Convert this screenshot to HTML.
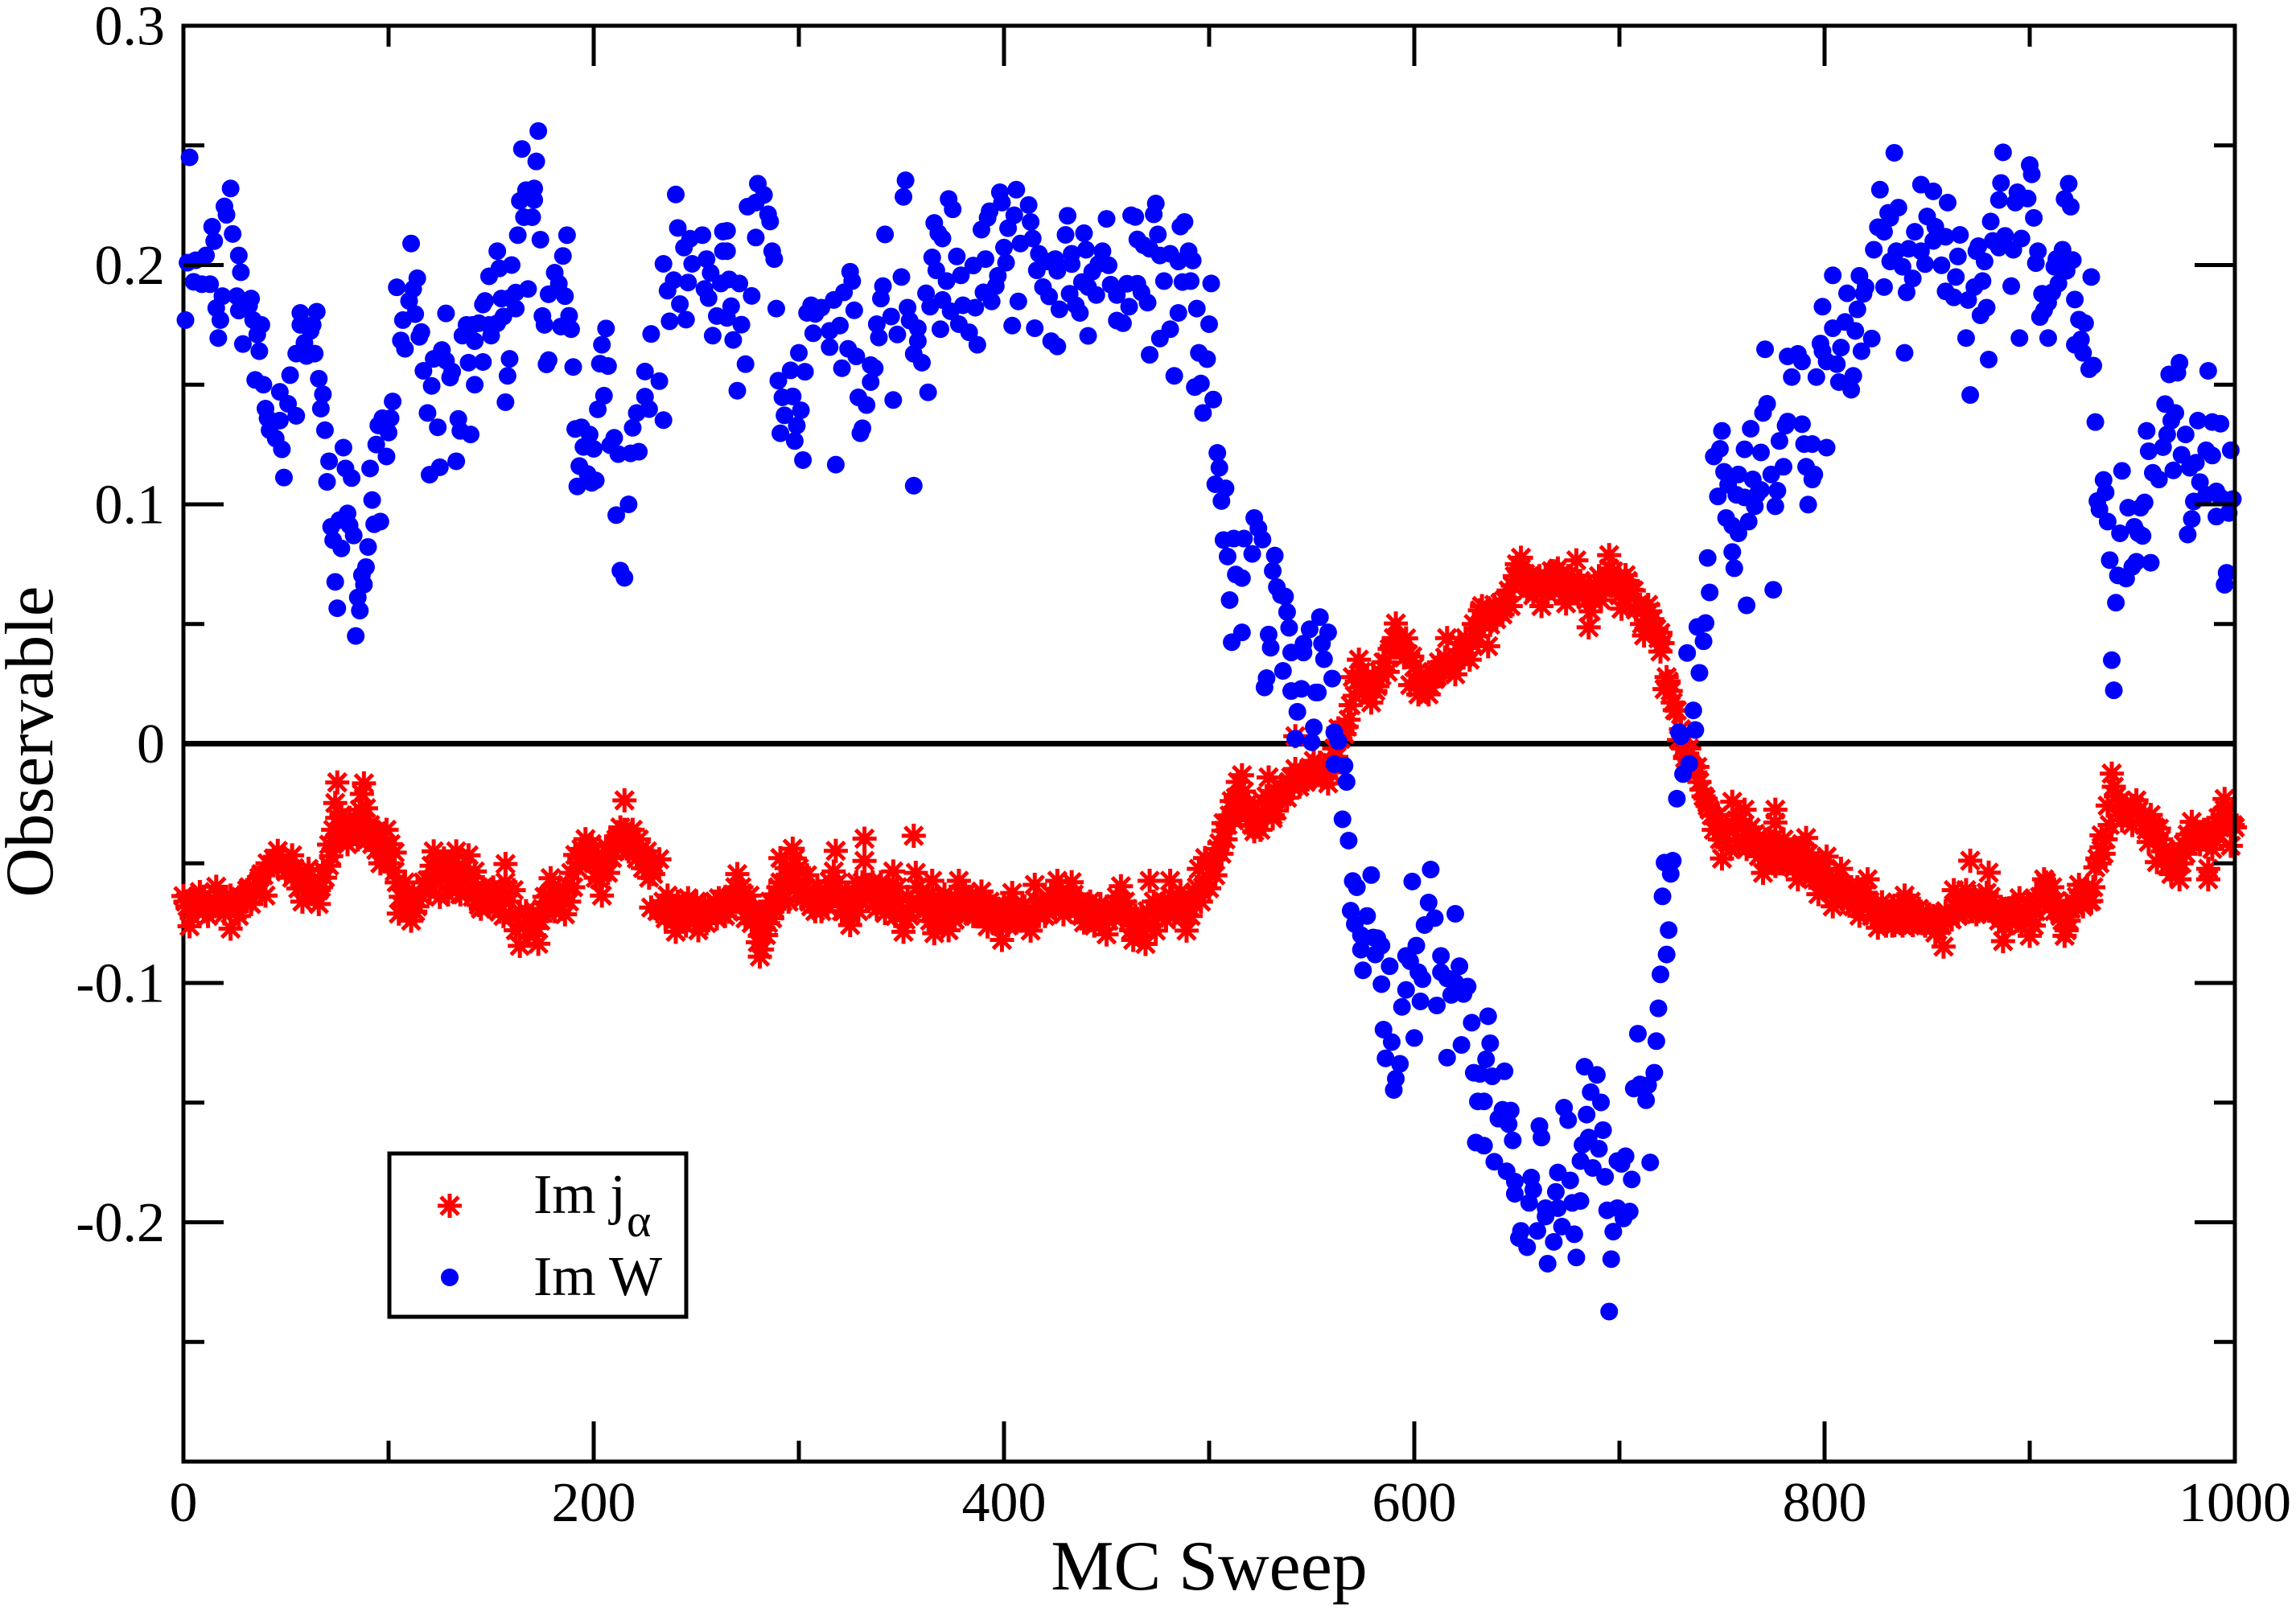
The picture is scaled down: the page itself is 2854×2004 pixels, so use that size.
<!DOCTYPE html>
<html lang="en">
<head>
<meta charset="utf-8">
<title>Observable vs MC Sweep</title>
<style>
html,body{margin:0;padding:0;background:#fff;}
svg{display:block;}
text{font-family:"Liberation Serif",serif;fill:#000;}
</style>
</head>
<body>
<svg id="chart" xmlns="http://www.w3.org/2000/svg" width="2854" height="2004" viewBox="0 0 2854 2004">
<rect x="0" y="0" width="2854" height="2004" fill="#fff"/>
<g id="frame-layer"></g>
<g id="zero-layer"></g>
<g id="j-layer"></g>
<g id="w-layer"></g>
<g id="axis-layer"></g>
<text x="1503" y="1976" font-size="88" text-anchor="middle">MC Sweep</text>
<text transform="translate(65,922) rotate(-90)" font-size="85" text-anchor="middle">Observable</text>
<g>
<rect x="484" y="1434" width="369" height="203" fill="#fff" stroke="#000" stroke-width="5"/>
<path d="M544 1499H574M559 1484V1514M548 1488L570 1510M548 1510L570 1488" stroke="#ff0000" stroke-width="5" fill="none"/>
<circle cx="559" cy="1588" r="11" fill="#0000ff"/>
<text x="663" y="1508" font-size="70">Im j</text>
<text x="779" y="1537" font-size="58">α</text>
<text x="663" y="1610" font-size="70">Im W</text>
</g>
</svg>
<script>
const xMajorTicks = [0,200,400,600,800,1000];
const xMinorTicks = [100,300,500,700,900];
const xTickLabels = ["0","200","400","600","800","1000"];
const yMajorTicks = [0.3,0.2,0.1,0,-0.1,-0.2,-0.3];
const yMinorTicks = [0.25,0.15,0.05,-0.05,-0.15,-0.25];
const yTickLabels = ["0.3","0.2","0.1","0","-0.1","-0.2",""];

const imJSweep = [
0,2,3,5,8,10,13,16,18,20,
23,23,26,28,31,33,36,38,40,43,
46,46,50,53,53,56,58,61,61,64,
66,66,68,71,71,74,75,74,75,78,
81,81,84,86,87,88,88,90,94,94,
97,99,103,103,105,108,109,113,116,119,
121,122,123,125,128,129,131,133,136,139,
138,142,144,147,151,154,157,157,161,164,
164,168,173,172,175,179,178,182,186,187,
189,191,193,196,197,200,203,204,206,209,
212,215,215,218,220,223,225,229,229,232,
228,233,236,238,240,243,246,247,251,253,
256,259,261,264,266,268,270,272,276,278,
281,281,281,283,286,288,290,291,293,295,
297,297,299,302,304,306,309,312,315,318,
317,320,322,325,325,328,330,332,332,334,
337,340,342,344,346,348,351,352,355,356,
357,360,362,365,366,367,370,373,376,378,
381,384,386,389,392,394,397,399,401,404,
406,409,411,413,415,418,420,423,426,429,
431,433,436,439,442,445,447,450,452,455,
457,460,463,466,469,471,474,476,479,481,
484,487,489,490,493,495,497,498,500,502,
505,507,507,510,513,513,516,519,522,523,
526,529,531,531,534,536,538,540,542,542,
545,548,551,553,555,558,560,562,563,565,
567,569,570,573,575,579,579,581,584,586,
588,589,590,591,593,597,598,599,602,604,
606,607,610,613,616,619,620,623,625,627,
630,632,633,635,636,637,640,642,645,647,
650,652,652,654,657,659,662,665,667,670,
672,674,677,679,681,683,685,686,688,691,
693,695,695,698,700,701,703,706,709,712,
715,715,717,720,720,723,722,726,728,729,
731,733,735,738,740,742,744,747,749,750,
753,755,757,758,761,762,764,766,768,770,
773,776,776,776,776,779,781,784,787,791,
794,797,801,804,806,808,811,814,817,820,
821,824,826,828,831,834,836,839,841,843,
846,848,851,854,856,858,860,862,863,866,
869,869,871,874,877,879,880,883,885,887,
887,890,893,895,896,898,900,903,905,907,
907,910,913,915,917,918,920,922,924,927,
930,932,933,935,935,938,940,941,943,945,
946,948,950,952,955,958,959,961,962,963,
965,967,969,970,972,973,975,977,979,980,
983,985,987,987,988,990,992,992,995,995,
997,998,1000
];
const imJValue = [
-.0637,-.068,-.0763,-.065,-.062,-.07,-.066,-.0598,-.068,-.0645,
-.0773,-.0635,-.070,-.064,-.0612,-.067,-.0585,-.0545,-.0635,-.0505,
-.0448,-.0512,-.0535,-.0467,-.056,-.0605,-.066,-.0523,-.0612,-.0635,
-.067,-.0612,-.053,-.051,-.0422,-.0248,-.0162,-.041,-.031,-.037,
-.0388,-.031,-.033,-.0276,-.021,-.0166,-.0355,-.04,-.0366,-.0444,
-.0467,-.036,-.0455,-.0534,-.071,-.058,-.0646,-.0702,-.0635,-.057,
-.051,-.045,-.0579,-.064,-.0523,-.063,-.055,-.045,-.057,-.0467,
-.0623,-.0534,-.0674,-.065,-.0601,-.0702,-.0503,-.0579,-.0612,-.0702,
-.0845,-.078,-.0836,-.077,-.069,-.0562,-.0635,-.0675,-.0713,-.059,
-.054,-.0465,-.0478,-.0399,-.0444,-.05,-.0568,-.0635,-.043,-.0478,
-.0385,-.0237,-.036,-.0399,-.043,-.0444,-.0475,-.0501,-.0545,-.0483,
-.0685,-.069,-.0635,-.072,-.0786,-.068,-.0646,-.0702,-.078,-.070,
-.072,-.066,-.0646,-.072,-.0702,-.063,-.0545,-.06,-.0635,-.0702,
-.0803,-.089,-.075,-.0702,-.066,-.069,-.06,-.0478,-.058,-.066,
-.0439,-.0534,-.06,-.0645,-.055,-.068,-.06,-.0668,-.0575,-.0448,
-.0534,-.0635,-.07,-.0758,-.0713,-.058,-.065,-.0397,-.049,-.059,
-.066,-.058,-.0708,-.063,-.0534,-.06,-.0786,-.0736,-.068,-.0385,
-.054,-.062,-.069,-.0573,-.0792,-.0747,-.066,-.078,-.0736,-.0573,
-.063,-.068,-.072,-.0618,-.0764,-.068,-.074,-.082,-.072,-.0624,
-.0747,-.068,-.0745,-.0781,-.059,-.066,-.072,-.063,-.0573,-.0713,
-.065,-.0579,-.069,-.0747,-.066,-.072,-.067,-.0797,-.071,-.064,
-.0596,-.069,-.082,-.0765,-.0837,-.0573,-.0781,-.068,-.0735,-.0573,
-.0665,-.072,-.0781,-.068,-.063,-.0523,-.06,-.0478,-.0604,-.0484,
-.0416,-.0332,-.0364,-.030,-.0243,-.0226,-.0132,-.025,-.0366,-.0347,
-.024,-.0141,-.0312,-.0299,-.021,-.022,-.0226,-.014,.0031,-.0106,
-.012,-.0149,-.0072,-.011,-.014,-.0166,-.008,-.0055,.0064,.0057,
.0071,.0161,.0278,.0351,.0214,.0172,.0239,.022,.0284,.034,
.0396,.0407,.0441,.0502,.042,.0374,.0245,.0364,.0206,.0236,
.025,.0206,.027,.033,.0441,.0321,.029,.036,.0441,.0351,
.045,.0557,.0575,.0519,.0407,.0497,.052,.0587,.06,.0575,
.075,.0777,.0732,.071,.065,.0665,.0575,.063,.0721,.0732,
.066,.0586,.0687,.0766,.068,.062,.0486,.0553,.0665,.06,
.066,.0788,.0732,.0685,.062,.0564,.0704,.0643,.058,.0452,
.0553,.0497,.048,.0463,.0385,.0278,.0228,.0172,.0138,.0015,
-.002,-.0041,-.009,-.0097,-.0192,-.023,-.0276,-.0332,-.04,-.048,
-.036,-.0243,-.0321,-.043,-.0276,-.044,-.035,-.0377,-.047,-.054,
-.041,-.0276,-.0388,-.0511,-.033,-.045,-.0433,-.05,-.0567,-.0394,
-.048,-.0629,-.0472,-.068,-.058,-.0523,-.063,-.068,-.0719,-.0623,
-.0567,-.07,-.0769,-.0663,-.07,-.0758,-.067,-.0635,-.071,-.0758,
-.069,-.075,-.0713,-.079,-.075,-.0848,-.072,-.0735,-.0612,-.066,
-.0612,-.0691,-.0489,-.0713,-.066,-.0623,-.0539,-.068,-.074,-.0825,
-.0691,-.074,-.068,-.0646,-.0758,-.071,-.0803,-.07,-.064,-.0567,
-.0623,-.068,-.0657,-.072,-.0803,-.078,-.069,-.068,-.059,-.062,
-.0657,-.0517,-.048,-.0433,-.0383,-.0259,-.0125,-.018,-.028,-.032,
-.0259,-.03,-.034,-.0237,-.03,-.0411,-.0298,-.035,-.0495,-.0355,
-.045,-.051,-.0545,-.0467,-.05,-.0567,-.042,-.038,-.0327,-.0388,
-.042,-.036,-.0523,-.0567,-.0388,-.035,-.031,-.0377,-.0231,-.0276,
-.0338,-.0427,-.035
];

const imJBandSweep = [
1,4,7,10,12,15,17,20,22,25,
27,30,32,35,37,39,41,44,48,51,
54,57,59,62,64,67,69,72,73,76,
77,79,80,83,85,87,89,91,92,95,
96,98,100,101,104,106,107,110,111,112,
114,117,120,124,126,127,130,132,134,135,
137,140,141,143,145,146,149,150,153,155,
156,159,160,162,166,167,170,171,174,176,
177,180,181,183,185,188,190,192,194,198,
199,201,202,205,207,210,211,213,214,217,
219,221,222,224,226,227,231,234,235,237,
239,241,242,244,245,248,249,250,252,254,
255,258,260,262,263,265,267,269,271,273,
274,275,277,279,280,282,282,284,285,287,
289,291,292,294,296,298,300,301,303,305,
307,308,310,311,313,314,316,319,321,323,
324,326,327,329,331,333,335,336,338,339,
341,343,345,347,349,350,353,354,358,359,
361,363,364,368,369,371,372,374,375,377,
379,380,382,383,385,387,388,390,391,393,
395,396,398,400,402,403,405,407,408,410,
412,414,416,417,419,421,422,424,425,427,
428,430,432,434,435,437,438,440,441,443,
444,446,448,449,451,453,454,456,458,459,
461,462,464,465,467,468,470,472,473,475,
477,478,480,482,483,485,486,488,491,492,
494,496,499,501,503,504,506,508,509,511,
512,514,515,517,518,520,521,524,525,527,
528,530,532,533,535,537,539,541,543,544,
546,547,549,550,552,554,556,557,559,561,
564,566,568,571,572,574,576,577,578,580,
582,583,585,587,592,594,595,596,600,601,
603,605,608,609,611,612,614,615,617,618,
621,622,624,626,628,629,631,634,638,639,
641,643,644,646,648,649,651,653,655,656,
658,660,661,663,664,666,668,669,671,673,
675,676,678,680,682,684,687,689,690,692,
694,696,697,699,702,704,705,707,708,710,
711,713,714,716,718,719,721,724,725,727,
730,732,734,736,737,739,741,743,745,746,
748,751,752,754,756,759,760,763,765,767,
769,771,772,774,775,777,778,780,782,783,
785,786,788,789,790,792,793,795,796,798,
799,800,802,803,805,807,809,810,812,813,
815,816,818,819,822,823,825,827,829,830,
832,833,835,837,838,840,842,844,845,847,
849,850,852,853,855,857,859,861,864,865,
867,868,870,872,873,875,876,878,881,882,
884,886,888,889,891,892,894,897,899,901,
902,904,906,908,909,911,912,914,916,919,
921,923,925,926,928,929,931,934,936,937,
939,942,944,947,949,951,953,954,956,957,
960,964,966,968,971,974,976,978,981,982,
984,986,989,991,993,994,996,999
];
const imJBandValue = [
-.066,-.072,-.067,-.064,-.072,-.068,-.064,-.071,-.068,-.066,
-.072,-.066,-.06,-.062,-.056,-.055,-.05,-.048,-.049,-.05,
-.052,-.055,-.058,-.058,-.062,-.06,-.056,-.047,-.036,-.04,
-.03,-.035,-.042,-.036,-.04,-.032,-.027,-.034,-.042,-.04,
-.05,-.043,-.05,-.042,-.058,-.064,-.068,-.069,-.074,-.063,
-.068,-.058,-.062,-.052,-.056,-.048,-.06,-.05,-.056,-.063,
-.052,-.056,-.064,-.06,-.069,-.06,-.068,-.063,-.065,-.062,
-.072,-.066,-.072,-.078,-.076,-.07,-.072,-.08,-.074,-.064,
-.07,-.062,-.07,-.062,-.065,-.066,-.06,-.052,-.044,-.049,
-.042,-.056,-.048,-.05,-.054,-.045,-.04,-.035,-.042,-.045,
-.036,-.048,-.04,-.052,-.045,-.056,-.07,-.066,-.073,-.069,
-.074,-.066,-.073,-.07,-.076,-.068,-.074,-.066,-.073,-.068,
-.075,-.07,-.073,-.07,-.066,-.065,-.064,-.06,-.065,-.066,
-.073,-.067,-.075,-.072,-.083,-.086,-.076,-.08,-.075,-.073,
-.063,-.058,-.066,-.052,-.057,-.048,-.052,-.062,-.06,-.066,
-.063,-.07,-.065,-.07,-.062,-.068,-.064,-.058,-.07,-.063,
-.067,-.068,-.062,-.07,-.058,-.06,-.064,-.058,-.069,-.063,
-.066,-.061,-.065,-.072,-.066,-.072,-.064,-.072,-.06,-.067,
-.07,-.064,-.074,-.065,-.071,-.063,-.072,-.064,-.07,-.066,
-.07,-.064,-.069,-.064,-.072,-.066,-.07,-.068,-.072,-.066,
-.074,-.068,-.076,-.068,-.076,-.068,-.068,-.07,-.074,-.068,
-.074,-.07,-.066,-.072,-.068,-.07,-.066,-.068,-.064,-.066,
-.063,-.068,-.066,-.063,-.07,-.066,-.072,-.07,-.074,-.07,
-.076,-.07,-.075,-.07,-.074,-.068,-.073,-.068,-.072,-.066,
-.074,-.078,-.072,-.078,-.072,-.078,-.07,-.076,-.066,-.072,
-.068,-.066,-.07,-.064,-.07,-.068,-.062,-.07,-.072,-.066,
-.06,-.066,-.056,-.052,-.055,-.044,-.046,-.04,-.034,-.024,
-.032,-.016,-.028,-.02,-.03,-.028,-.034,-.03,-.036,-.03,
-.022,-.024,-.022,-.028,-.018,-.02,-.016,-.018,-.014,-.018,
-.012,-.016,-.01,-.014,-.012,-.008,-.01,-.014,-.012,-.002,
.002,.004,.01,.02,.026,.03,.024,.028,.02,.028,
.024,.03,.034,.03,.044,.04,.036,.044,.032,.026,
.028,.026,.024,.03,.028,.034,.03,.036,.034,.032,
.036,.042,.036,.04,.042,.05,.048,.05,.055,.058,
.056,.054,.06,.064,.066,.07,.07,.068,.064,.07,
.062,.066,.07,.064,.07,.066,.066,.072,.066,.062,
.07,.064,.064,.062,.066,.06,.06,.064,.07,.066,
.07,.066,.072,.068,.064,.068,.062,.064,.056,.058,
.05,.054,.058,.052,.048,.044,.042,.026,.022,.014,
.006,-.006,-.002,-.01,-.012,-.016,-.022,-.026,-.03,-.036,
-.03,-.04,-.034,-.044,-.036,-.032,-.04,-.036,-.042,-.04,
-.046,-.04,-.048,-.044,-.05,-.044,-.05,-.04,-.05,-.045,
-.052,-.044,-.05,-.042,-.052,-.046,-.056,-.05,-.056,-.056,
-.05,-.06,-.055,-.062,-.064,-.06,-.066,-.06,-.066,-.06,
-.066,-.06,-.066,-.06,-.066,-.072,-.068,-.072,-.07,-.076,
-.07,-.076,-.072,-.07,-.076,-.07,-.066,-.07,-.074,-.072,
-.076,-.072,-.076,-.072,-.078,-.076,-.07,-.072,-.068,-.072,
-.064,-.07,-.066,-.07,-.064,-.07,-.064,-.068,-.064,-.07,
-.07,-.072,-.076,-.07,-.074,-.068,-.074,-.072,-.066,-.072,
-.076,-.066,-.064,-.058,-.064,-.06,-.07,-.07,-.074,-.074,
-.066,-.064,-.062,-.068,-.06,-.066,-.06,-.05,-.046,-.04,
-.034,-.022,-.024,-.03,-.028,-.026,-.028,-.032,-.034,-.036,
-.038,-.04,-.044,-.05,-.052,-.05,-.046,-.04,-.036,-.04,
-.04,-.038,-.044,-.038,-.034,-.03,-.03,-.034
];

const imWSweep = [
3,1,2,6,11,5,9,13,23,20,
21,14,15,24,27,28,19,16,26,27,
33,32,18,17,34,38,36,29,37,35,
39,52,47,51,40,41,47,55,42,45,
48,49,57,65,57,63,62,59,55,60,
64,66,68,67,69,78,71,79,82,70,
91,94,99,95,100,97,101,102,92,96,
93,80,76,72,81,83,73,77,90,89,
87,88,74,85,86,75,84,111,114,104,
112,110,113,107,116,115,106,108,128,126,
122,128,117,131,130,121,139,146,142,159,
158,157,178,177,190,119,124,134,135,140,
133,125,120,136,138,141,144,142,150,149,
153,146,147,156,155,162,159,162,168,153,
149,154,160,163,174,165,172,173,171,167,
164,171,166,170,187,185,181,183,178,186,
175,176,184,188,189,206,204,203,207,205,
202,194,191,198,195,200,193,197,201,199,
192,210,208,212,218,222,217,211,213,215,
219,221,227,234,225,225,232,228,237,245,
258,260,242,236,239,246,234,240,241,244,
247,253,248,255,257,254,262,256,263,263,
265,265,280,283,275,279,286,285,279,287,
288,266,271,277,267,289,265,272,268,274,
270,300,296,303,290,292,297,301,293,299,
291,298,302,318,356,306,304,311,308,317,
322,325,326,327,320,315,307,315,324,328,
321,335,337,335,329,333,331,330,346,363,
340,341,350,352,351,342,338,345,339,348,
353,354,358,358,356,360,369,362,364,370,
374,378,383,387,380,386,394,390,396,397,
401,372,379,385,391,367,365,377,366,370,
368,373,375,389,393,392,398,399,406,412,
402,405,413,408,414,400,407,404,415,423,
426,441,419,422,427,432,435,437,416,421,
425,426,433,417,431,430,439,440,433,448,
446,451,443,438,441,445,452,455,460,465,
467,470,461,458,455,450,462,464,474,473,
488,486,475,465,468,471,476,481,485,490,
492,478,487,491,501,494,485,500,481,476,
471,495,499,483,496,493,502,497,504,505,
503,508,506,522,524,526,507,512,517,521,
509,532,531,513,516,533,535,537,510,538,
539,554,549,558,516,511,529,530,555,546,
540,546,556,536,560,528,527,540,545,552,
553,543,551,542,550,561,563,561,566,567,
565,568,579,570,572,599,608,607,610,605,
620,569,577,571,580,582,574,584,574,581,
575,588,601,596,598,602,604,584,596,594,
603,611,613,622,613,616,620,626,618,624,
636,628,585,589,600,586,593,591,590,623,
616,637,635,629,632,638,644,631,634,643,
647,641,646,673,684,675,661,662,648,630,
634,639,645,683,689,686,691,692,685,682,
690,681,687,693,703,699,701,715,706,717,
710,707,714,713,718,709,719,720,723,724,
721,725,722,726,728,731,734,730,729,737,
657,649,658,649,656,670,676,669,681,677,
670,664,664,694,699,705,702,697,660,652,
651,655,672,678,668,679,665,696,695,
736,739,733,741,738,742,744,762,775,743,
756,755,758,752,755,763,776,792,766,748,
757,761,767,769,777,753,758,751,765,774,
780,791,795,794,746,749,761,769,750,764,
778,781,782,789,790,794,801,770,772,784,
796,771,782,787,789,798,799,801,806,804,
808,810,815,818,823,807,814,813,816,799,
804,811,817,820,819,829,840,839,824,826,
829,832,831,836,827,834,832,835,838,843,
841,847,849,844,847,853,860,850,854,853,
859,866,857,865,864,859,863,870,873,877,
879,876,869,880,895,909,871,874,878,875,
882,881,885,888,892,896,886,885,887,900,
901,894,893,899,902,891,904,903,919,917,
920,916,913,921,912,918,914,911,906,909,
907,905,930,922,924,927,925,922,926,931,
929,932,936,945,937,933,934,938,948,954,
956,951,944,953,955,939,943,947,950,952,
959,942,940,941,968,973,972,987,966,971,
969,967,957,976,965,958,982,989,993,998,
986,989,974,981,978,970,960,963,983,991,
999,986,980,993,991,997,979,977,996,995
];
const imWValue = [
.245,.177,.201,.202,.204,.193,.192,.192,.232,.2245,
.221,.216,.210,.213,.204,.197,.187,.182,.187,.181,
.186,.183,.177,.1695,.177,.175,.171,.167,.164,.152,
.150,.154,.147,.142,.140,.136,.135,.137,.131,.1275,
.123,.1112,.180,.1805,.175,.175,.1725,.1675,.163,.162,
.163,.1525,.146,.14,.131,.1237,.118,.115,.111,.1094,
.115,.125,.12,.133,.13,.136,.136,.143,.1018,.0928,
.0917,.0962,.0934,.0906,.0912,.087,.085,.0816,.0822,.0738,
.0704,.0665,.0676,.0611,.0556,.0566,.045,.209,.1945,.1907,
.19,.185,.1795,.177,.172,.170,.1685,.165,.1798,.1645,
.1608,.16,.1558,.1555,.153,.1495,.1592,.1595,.15,.1608,
.1537,.1427,.1603,.1585,.1574,.1382,.1322,.1357,.1307,.1292,
.118,.1155,.1124,.1705,.175,.175,.1757,.1682,.1705,.175,
.1757,.1835,.185,.1785,.186,.1818,.1862,.1885,.19,.2058,
.1953,.1986,.2,.2125,.2106,.2485,.2433,.256,.232,.2313,
.2268,.2272,.22,.22,.2125,.2038,.1968,.1922,.1878,.187,
.1787,.175,.1743,.1788,.1732,.1735,.1667,.1588,.1578,.1454,
.1397,.1322,.1315,.1292,.124,.1232,.116,.1127,.11,.109,
.1075,.1278,.1247,.121,.1213,.122,.1,.0955,.0723,.0693,
.132,.1382,.1398,.1352,.145,.1555,.1515,.1712,.1765,.1772,
.1705,.1787,.1837,.1893,.1937,.1927,.2005,.2295,.2155,.2073,
.211,.2125,.2005,.2025,.1967,.19,.1923,.1862,.2058,.214,
.2143,.2058,.234,.2293,.2244,.2261,.2182,.2212,.2115,.2058,
.2025,.194,.1923,.1871,.1828,.1818,.1779,.1751,.1687,.1586,
.1475,.1633,.156,.1554,.1517,.1447,.1451,.1393,.1372,.1329,
.1297,.1265,.1185,.1166,.1078,.1832,.18,.1822,.1796,.1854,
.1886,.1972,.1933,.1811,.1747,.1725,.1715,.1657,.165,.1618,
.1569,.1582,.1569,.1511,.1447,.1415,.1318,.1297,.1436,.1468,
.186,.1912,.195,.2354,.2285,.2128,.1753,.1785,.1697,.171,
.1822,.1768,.1736,.1682,.1629,.1592,.1732,.1882,.1826,.1854,
.1807,.1753,.1719,.1667,.1832,.1822,.1848,.1886,.1912,.1955,
.201,.1933,.1957,.1998,.2025,.1978,.2032,.2036,.2176,.2111,
.2133,.2276,.2233,.2148,.2225,.2197,.2304,.2261,.2315,.2251,
.2154,.2208,.218,.209,.2111,.2073,.1848,.1747,.1736,.1682,
.166,.1704,.1908,.1869,.1815,.188,.1832,.18,.1978,.2015,
.2025,.1976,.2004,.2047,.2206,.2126,.2133,.2064,.2047,.2058,
.2004,.1999,.1972,.1929,.1908,.1875,.1918,.1875,.1922,.1922,
.1886,.1843,.1826,.1757,.1768,.2193,.2208,.2201,.2257,.2212,
.218,.2161,.2128,.2107,.2083,.2068,.204,.2047,.2015,.2058,
.2019,.1933,.1929,.1933,.1923,.1818,.18,.1753,.1732,.1693,
.1625,.1633,.1607,.1537,.1505,.149,.1438,.1382,.1215,.1153,
.1084,.1067,.1014,.0943,.09,.0853,.0851,.0857,.0857,.0793,
.0782,.0786,.0722,.0707,.0692,.0654,.0621,.0615,.06,.055,
.0484,.0529,.0478,.0465,.0465,.0424,.0456,.0401,.0418,.0418,
.0381,.0381,.0353,.0304,.0272,.0274,.0235,.022,.0229,.0214,
.0214,.0133,.0068,.0021,.0006,.0047,.001,-.0086,-.0092,-.016,
-.0316,-.0405,-.0549,-.0574,-.06,-.0576,-.0526,-.0664,-.0729,-.0758,
-.0711,-.0698,-.072,-.0754,-.081,-.0813,-.08,-.0844,-.0861,-.0881,
-.0947,-.093,-.0844,-.0887,-.0909,-.0955,-.0984,-.1005,-.1029,-.11,
-.1077,-.1094,-.0887,-.093,-.0955,-.0981,-.0998,-.1015,-.105,-.1046,
-.1139,-.1166,-.1195,-.1247,-.123,-.1315,-.1338,-.14,-.1447,-.1259,
-.1312,-.1252,-.1319,-.1375,-.138,-.139,-.1369,-.1495,-.1495,-.153,
-.1533,-.1567,-.159,-.1521,-.155,-.1573,-.1598,-.1646,-.1658,-.1667,
-.168,-.1747,-.1787,-.135,-.1384,-.1456,-.1499,-.1615,-.1646,-.1676,
-.1693,-.1744,-.1773,-.181,-.1724,-.1744,-.1756,-.175,-.1821,-.1375,
-.1424,-.1441,-.1427,-.149,-.1243,-.1212,-.1106,-.0964,-.0881,-.0779,
-.0638,-.0544,-.0497,-.0489,-.023,-.0127,-.0084,.0031,.0048,.0057,
-.1813,-.183,-.1864,-.1881,-.1919,-.1792,-.1825,-.1873,-.1911,-.1919,
-.1941,-.1941,-.1976,-.195,-.1941,-.1955,-.1984,-.2039,-.2036,-.2036,
-.2066,-.2104,-.2018,-.205,-.2082,-.2147,-.2173,-.2154,-.2373,
.0139,.0296,.0379,.0428,.0488,.0504,.0632,.0578,.0643,.0776,
.0733,.0801,.0879,.0943,.0911,.0928,.0992,.0999,.0992,.1033,
.104,.1029,.104,.106,.1057,.1082,.1125,.1136,.1104,.1125,
.1157,.1157,.1125,.1104,.12,.1232,.123,.1217,.1307,.1316,
.1265,.1329,.1346,.1335,.1252,.1252,.1237,.1382,.142,.1532,
.1532,.1648,.1618,.1629,.1597,.1672,.164,.1597,.1586,.1736,
.1655,.1762,.1725,.164,.1693,.1511,.1537,.1479,.1815,.1826,
.1957,.1882,.1955,.1908,.188,.1908,.1886,.1633,.2064,.2158,
.2139,.2197,.2218,.224,.2315,.2469,.2015,.2058,.1993,.1944,
.2068,.2058,.2004,.2139,.2336,.2308,.2261,.2203,.216,.2101,
.2118,.2126,.1999,.2036,.195,.189,.1865,.1854,.1908,.1933,
.1822,.179,.1695,.1605,.1695,.1695,.1457,.2058,.2015,.2079,
.2101,.2182,.2073,.2122,.2064,.2111,.2343,.2272,.2471,.2418,
.2379,.2304,.2261,.2278,.2197,.1912,.2058,.2008,.234,.2276,
.2244,.2064,.2025,.2021,.1993,.1976,.1923,.1886,.188,.1843,
.1811,.1783,.195,.1856,.1772,.1757,.1689,.1667,.1633,.158,
.1565,.1344,.1102,.114,.105,.1014,.0979,.0928,.0986,.0986,
.1008,.0906,.0879,.0879,.0868,.0767,.0703,.069,.0739,.076,
.0756,.0589,.0349,.0223,.1543,.1592,.155,.1558,.1419,.1382,
.135,.1292,.1307,.1292,.1239,.1222,.135,.1344,.1337,.1226,
.1226,.1204,.1207,.1174,.1153,.1142,.1132,.1104,.1093,.1054,
.1022,.104,.1012,.1029,.0949,.0964,.0939,.0874,.0714,.0664
];

const SVGNS = "http://www.w3.org/2000/svg";
const plotLeft = 228, plotRight = 2778, plotTop = 32, plotBottom = 1817;
const xMin = 0, xMax = 1000, yMin = -0.3, yMax = 0.3;
function xScale(v){ return plotLeft + (v - xMin) / (xMax - xMin) * (plotRight - plotLeft); }
function yScale(v){ return plotBottom - (v - yMin) / (yMax - yMin) * (plotBottom - plotTop); }
function make(tag, attrs, parent){
  const el = document.createElementNS(SVGNS, tag);
  for (const k in attrs) el.setAttribute(k, attrs[k]);
  parent.appendChild(el);
  return el;
}
const frameLayer = document.getElementById("frame-layer");
const zeroLayer = document.getElementById("zero-layer");
const jLayer = document.getElementById("j-layer");
const wLayer = document.getElementById("w-layer");
const axisLayer = document.getElementById("axis-layer");
const stroke = { stroke: "#000", "stroke-width": 5 };

const frame = make("rect", { x: plotLeft, y: plotTop, width: plotRight - plotLeft, height: plotBottom - plotTop, fill: "none", stroke: "#000", "stroke-width": 5 }, frameLayer);



const zeroLine = make("line", { x1: xScale(xMin), x2: xScale(xMax), y1: yScale(0), y2: yScale(0), stroke: "#000", "stroke-width": 7 }, zeroLayer);



function drawXTick(v, len){
  const x = xScale(v);
  const bottom = make("line", Object.assign({ x1: x, x2: x, y1: plotBottom, y2: plotBottom - len }, stroke), axisLayer);
  
  
  const top = make("line", Object.assign({ x1: x, x2: x, y1: plotTop, y2: plotTop + len }, stroke), axisLayer);
  
  
}
function drawYTick(v, len){
  const y = yScale(v);
  const left = make("line", Object.assign({ x1: plotLeft, x2: plotLeft + len, y1: y, y2: y }, stroke), axisLayer);
  
  
  const right = make("line", Object.assign({ x1: plotRight, x2: plotRight - len, y1: y, y2: y }, stroke), axisLayer);
  
  
}
xMajorTicks.forEach(function(v, i){
  drawXTick(v, 50);
  const t = make("text", { x: xScale(v), y: 1891, "font-size": 70, "text-anchor": "middle" }, axisLayer);
  
  
  t.textContent = xTickLabels[i];
});
xMinorTicks.forEach(function(v){ drawXTick(v, 26); });
yMajorTicks.forEach(function(v, i){
  if (v !== 0) drawYTick(v, 50);
  if (yTickLabels[i]) {
    const t = make("text", { x: 205, y: yScale(v) + 23.5, "font-size": 70, "text-anchor": "end" }, axisLayer);
    
    
    t.textContent = yTickLabels[i];
  }
});
yMinorTicks.forEach(function(v){ drawYTick(v, 26); });

const rightSpine = make("line", Object.assign({ x1: plotRight, x2: plotRight, y1: plotTop - 2.5, y2: plotBottom + 2.5 }, stroke), axisLayer);



function drawStars(sweeps, values){
  const n = Math.min(sweeps.length, values.length);
  for (let i = 0; i < n; i++) {
    const x = xScale(sweeps[i]), y = yScale(values[i]);
    const d = "M" + (x - 15) + " " + y + "H" + (x + 15) +
              "M" + x + " " + (y - 15) + "V" + (y + 15) +
              "M" + (x - 11) + " " + (y - 11) + "L" + (x + 11) + " " + (y + 11) +
              "M" + (x - 11) + " " + (y + 11) + "L" + (x + 11) + " " + (y - 11);
    const star = make("path", { d: d, stroke: "#ff0000", "stroke-width": 5, fill: "none" }, jLayer);
    
    
  }
}
drawStars(imJSweep, imJValue);
drawStars(imJBandSweep, imJBandValue);

const wCount = Math.min(imWSweep.length, imWValue.length);
for (let i = 0; i < wCount; i++) {
  const dot = make("circle", { cx: xScale(imWSweep[i]), cy: yScale(imWValue[i]), r: 11, fill: "#0000ff" }, wLayer);
  
  
}
</script>
</body>
</html>
